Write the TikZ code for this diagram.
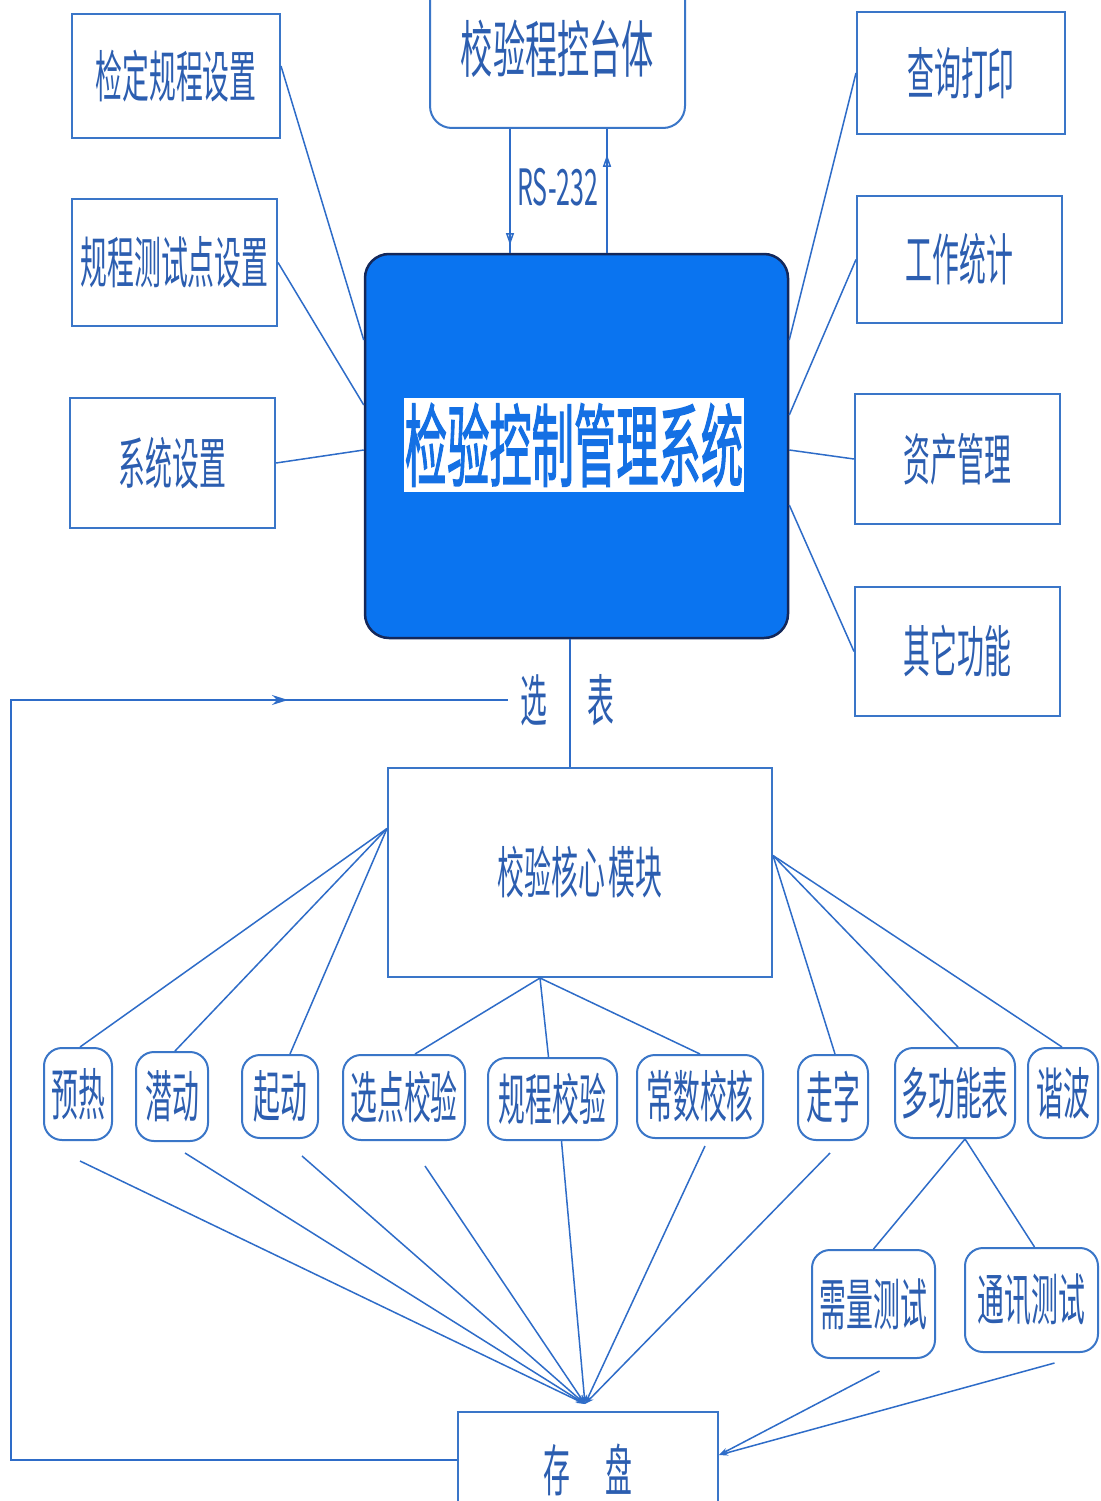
\documentclass[tikz,border=0pt]{standalone}
\usepackage{fontspec}
\usepackage{graphicx}
\newfontfamily\cjk{Noto Sans CJK SC}
\newfontfamily\cjkb[FakeBold=2]{Noto Sans CJK SC}
\usetikzlibrary{arrows.meta,decorations.markings}
\definecolor{boxc}{HTML}{3A76C8}
\definecolor{linec}{HTML}{2E6CC8}
\definecolor{txtc}{HTML}{2C5EB0}
\definecolor{mainfill}{HTML}{0A74F0}
\definecolor{mainedge}{HTML}{14285A}
\definecolor{titlec}{HTML}{1470E4}
\newcommand\ztx[3]{\scalebox{#1}[1]{\cjk\fontsize{#2}{#2}\selectfont #3}}
\newcommand\zt[1]{\ztx{0.48}{56}{#1}}
\newcommand\zbig[1]{\scalebox{0.47}[1]{\cjkb\fontsize{90}{90}\selectfont #1}}
\tikzset{
  rectbox/.style={draw=boxc, line width=2pt, inner sep=0pt, text=txtc},
  rbox/.style={rectbox, rounded corners=18pt},
  conn/.style={draw=linec, line width=1.5pt},
  tip/.style={-{Stealth[length=9pt,width=6pt]}},
  mainbox/.style={draw=mainedge, fill=mainfill, line width=2.5pt, rounded corners=24pt},
  plain/.style={inner sep=0pt, text=txtc}
}
\begin{document}
\begin{tikzpicture}[x=1pt,y=-1pt]
\useasboundingbox (0,0) rectangle (1100,1501);
\fill[white] (0,0) rectangle (1100,1501);

% top row boxes
\node[rectbox, minimum width=208pt, minimum height=124pt] (jd) at (176,76) {\zt{检定规程设置}};
\node[rectbox, minimum width=205pt, minimum height=127pt] (gc) at (174.5,262.5) {\zt{规程测试点设置}};
\node[rectbox, minimum width=205pt, minimum height=130pt] (xt) at (172.5,463) {\zt{系统设置}};
\node[rectbox, minimum width=208pt, minimum height=122pt] (cx) at (961,73) {\zt{查询打印}};
\node[rectbox, minimum width=205pt, minimum height=127pt] (gz) at (959.5,259.5) {\zt{工作统计}};
\node[rectbox, minimum width=205pt, minimum height=130pt] (zc) at (957.5,459) {\zt{资产管理}};
\node[rectbox, minimum width=205pt, minimum height=129pt] (qt) at (957.5,651.5) {\zt{其它功能}};
\node[rbox, rounded corners=22pt, minimum width=255pt, minimum height=158pt] (tai) at (557.5,49) {\raisebox{-7pt}{\ztx{0.52}{62}{校验程控台体}}};

% main box
\node[mainbox, minimum width=423pt, minimum height=384pt] (main) at (576.5,446) {};
\node[fill=white, inner sep=1pt, text=titlec, minimum height=94pt] (title) at (574,445) {\zbig{检验控制管理系统}};

% connectors to main
\draw[conn] ([yshift=10pt]jd.east) -- ([yshift=106pt]main.west);
\draw[conn] (gc.east) -- ([yshift=41pt]main.west);
\draw[conn] (xt.east) -- ([yshift=-4pt]main.west);
\draw[conn] (cx.west) -- ([yshift=106pt]main.east);
\draw[conn] (gz.west) -- ([yshift=31pt]main.east);
\draw[conn] (zc.west) -- ([yshift=-4pt]main.east);
\draw[conn] (qt.west) -- ([yshift=-59pt]main.east);

% RS-232
\draw[conn, postaction={decorate}, decoration={markings, mark=at position 116pt with {\arrow{Triangle[open,length=12pt,width=8pt]}}}]
  ([xshift=-47.5pt]tai.south) -- ([xshift=-47.5pt]tai.south |- main.north);
\draw[conn, postaction={decorate}, decoration={markings, mark=at position 98pt with {\arrow{Triangle[open,length=12pt,width=8pt]}}}]
  ([xshift=49.5pt]tai.south |- main.north) -- ([xshift=49.5pt]tai.south);
\node[plain] (rs) at (558,187) {\ztx{0.5}{50}{RS-232}};

% core
\node[rectbox, minimum width=384pt, minimum height=209pt] (core) at (580,872.5) {\zt{校验核心\hspace{6pt}模块}};
\draw[conn] ([xshift=-10pt]core.north) -- ([xshift=-10pt]core.north |- main.south);
\node[plain, inner sep=12pt] (xuan) at (534,700) {\zt{选}};
\node[plain] (biao) at (601,700) {\zt{表}};

% sub items
\node[rbox, minimum width=68pt, minimum height=92pt] (yr) at (78,1094) {\zt{预热}};
\node[rbox, minimum width=72pt, minimum height=89pt] (qd) at (172,1096.5) {\zt{潜动}};
\node[rbox, minimum width=76pt, minimum height=83pt] (qid) at (280,1096.5) {\zt{起动}};
\node[rbox, minimum width=122pt, minimum height=85pt] (xd) at (404,1097.5) {\zt{选点校验}};
\node[rbox, minimum width=129pt, minimum height=82pt] (gj) at (552.5,1099) {\zt{规程校验}};
\node[rbox, minimum width=126pt, minimum height=83pt] (cs) at (700,1096.5) {\zt{常数校核}};
\node[rbox, minimum width=70pt, minimum height=85pt] (zz) at (833,1097.5) {\zt{走字}};
\node[rbox, minimum width=120pt, minimum height=90pt] (dg) at (955,1093) {\zt{多功能表}};
\node[rbox, minimum width=70pt, minimum height=90pt] (xb) at (1063,1093) {\zt{谐波}};
\node[rbox, minimum width=123pt, minimum height=108pt] (xl) at (873.5,1304) {\zt{需量测试}};
\node[rbox, minimum width=133pt, minimum height=104pt] (tx) at (1031.5,1300) {\zt{通讯测试}};
\node[rectbox, minimum width=260pt, minimum height=118pt] (cp) at (588,1471) {\raisebox{6pt}{\zt{存\hspace{74pt}盘}}};

% core to items
\draw[conn] ([yshift=44pt]core.west) -- ([xshift=2pt]yr.north);
\draw[conn] ([yshift=44pt]core.west) -- ([xshift=3pt]qd.north);
\draw[conn] ([yshift=44pt]core.west) -- ([xshift=10pt]qid.north);
\draw[conn] ([xshift=-40pt]core.south) -- ([xshift=11pt]xd.north);
\draw[conn] ([xshift=-40pt]core.south) -- ([xshift=-4pt]gj.north);
\draw[conn] ([xshift=-40pt]core.south) -- (cs.north);
\draw[conn] ([yshift=17pt]core.east) -- ([xshift=2pt]zz.north);
\draw[conn] ([yshift=17pt]core.east) -- ([xshift=3pt]dg.north);
\draw[conn] ([yshift=17pt]core.east) -- ([xshift=-1pt]xb.north);
\draw[conn] ([xshift=10pt]dg.south) -- (xl.north);
\draw[conn] ([xshift=10pt]dg.south) -- ([xshift=3pt]tx.north);

% items to cp
\coordinate (cpin) at ([xshift=-3pt,yshift=7pt]cp.north);
\draw[conn, tip] ([xshift=2pt,yshift=-20pt]yr.south) -- (cpin);
\draw[conn, tip] ([xshift=13pt,yshift=-11pt]qd.south) -- (cpin);
\draw[conn, tip] ([xshift=22pt,yshift=-17pt]qid.south) -- (cpin);
\draw[conn, tip] ([xshift=21pt,yshift=-25pt]xd.south) -- (cpin);
\draw[conn, tip] ([xshift=9pt]gj.south) -- (cpin);
\draw[conn, tip] ([xshift=5pt,yshift=-7pt]cs.south) -- (cpin);
\draw[conn, tip] ([xshift=-3pt,yshift=-12pt]zz.south) -- (cpin);
\draw[conn, tip] ([xshift=6pt,yshift=-12pt]xl.south) -- ([yshift=16pt]cp.east);
\draw[conn, tip] ([xshift=23pt,yshift=-10pt]tx.south) -- ([yshift=16pt]cp.east);

% feedback loop
\draw[conn, postaction={decorate}, decoration={markings, mark=at position 1483pt with {\arrow{Stealth[length=16pt,width=10pt]}}}]
  ([yshift=11pt]cp.west) -- ++(-446,0) |- (xuan.west);
\end{tikzpicture}
\end{document}
